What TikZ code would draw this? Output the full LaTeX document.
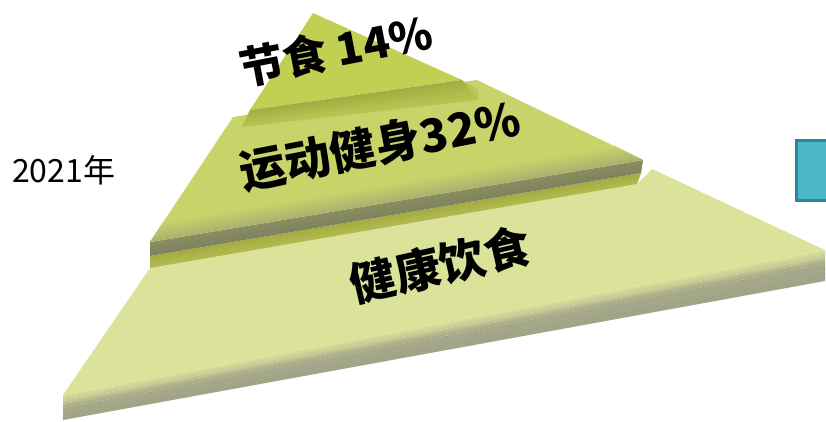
\documentclass[tikz,border=0pt]{standalone}
\usepackage{fontspec}
\usetikzlibrary{calc}
\newfontfamily\cjk{Noto Sans CJK SC}
\definecolor{btop}{HTML}{DBE29A}
\definecolor{bfa}{HTML}{C8CA94}
\definecolor{bfb}{HTML}{A6A889}
\definecolor{bfc}{HTML}{A2A487}
\definecolor{oliveA}{HTML}{A4AB42}
\definecolor{oliveB}{HTML}{B2BA4F}
\definecolor{mtop}{HTML}{C8D46A}
\definecolor{mtopd}{HTML}{ACB26E}
\definecolor{mfa}{HTML}{8A8E63}
\definecolor{mfb}{HTML}{7E835D}
\definecolor{ttop}{HTML}{C1D052}
\definecolor{tba}{HTML}{A3AB3F}
\definecolor{tbb}{HTML}{B9C653}
\definecolor{tealf}{HTML}{4BB6C6}
\definecolor{tealb}{HTML}{31859B}
\newcommand\gband[7]{%
  \foreach \i in {1,...,#7}{%
    \pgfmathsetmacro\ta{(\i-1)/#7}%
    \pgfmathsetmacro\tb{min(1,(\i+0.5)/#7)}%
    \pgfmathtruncatemacro\pc{100-100*(\i-0.5)/#7}%
    \fill[#5!\pc!#6] ($(#1)!\ta!(#4)$) -- ($(#2)!\ta!(#3)$) -- ($(#2)!\tb!(#3)$) -- ($(#1)!\tb!(#4)$) -- cycle;
  }}
\tikzset{
  lbl/.style={font=\cjk\bfseries\fontsize{44}{44}\selectfont, text=black, inner sep=0pt, rotate=11},
  yr/.style={font=\cjk\fontsize{32}{32}\selectfont, text=black, inner sep=0pt, anchor=base west}
}
\begin{document}
\begin{tikzpicture}[x=1pt,y=-1pt]
\useasboundingbox (0,0) rectangle (826,421);
% ---------- bottom tier ----------
\coordinate (B1) at (63,395);
\coordinate (B2) at (825,250);
\coordinate (B1a) at (63,401);
\coordinate (B2a) at (825,257);
\coordinate (B1b) at (63,408);
\coordinate (B2b) at (825,264);
\coordinate (B4) at (63,420);
\coordinate (B3) at (825,281);
\coordinate (B5) at (150,268);
\coordinate (B6) at (637,184);
\coordinate (B7) at (652,169);
\gband{B1}{B2}{B2a}{B1a}{btop}{bfa}{6}
\gband{B1a}{B2a}{B2b}{B1b}{bfa}{bfb}{6}
\gband{B1b}{B2b}{B3}{B4}{bfb}{bfc}{4}
\fill[btop] (B1) -- (B5) -- (B6) -- (B7) -- (B2) -- cycle;
% ---------- middle tier ----------
\coordinate (M1) at (150,242);
\coordinate (M2) at (643,160);
\coordinate (M3) at (641,173);
\coordinate (M4) at (150,256);
\coordinate (M5) at (233,117);
\coordinate (M6) at (477,80);
\coordinate (M7) at (163,222);
\coordinate (M8) at (615,146);
\gband{M4}{M3}{B6}{B5}{oliveA}{oliveB}{6}
\gband{M1}{M2}{M3}{M4}{mfa}{mfb}{6}
\fill[mtop] (M1) -- (M5) -- (M6) -- (M2) -- cycle;
\gband{M7}{M8}{M2}{M1}{mtop}{mtopd}{10}
% ---------- top tier ----------
\coordinate (A) at (313,13);
\coordinate (T1) at (250,110);
\coordinate (T2) at (462,80);
\coordinate (T3) at (478,100);
\coordinate (T4) at (242,127);
\fill[ttop] (A) -- (T1) -- (T2) -- cycle;
\gband{T1}{T2}{T3}{T4}{tba}{tbb}{8}
\fill[tbb] (T2) -- (478,90) -- (T3) -- cycle;
% ---------- labels ----------
\node[lbl] (l1) at (336,50) {节食 14\%};
\node[lbl, font=\cjk\bfseries\fontsize{46}{46}\selectfont] (l2) at (380,145) {运动健身32\%};
\node[lbl, rotate=2, font=\cjk\bfseries\fontsize{46}{46}\selectfont] (l3) at (440,265) {健康饮食};
\node[yr] (yr) at (12,182) {2021年};
% ---------- teal box ----------
\node[draw=tealb, fill=tealf, line width=3pt, minimum width=50pt, minimum height=60pt, inner sep=0pt, anchor=north west] (tb) at (795,139) {};
\end{tikzpicture}
\end{document}
